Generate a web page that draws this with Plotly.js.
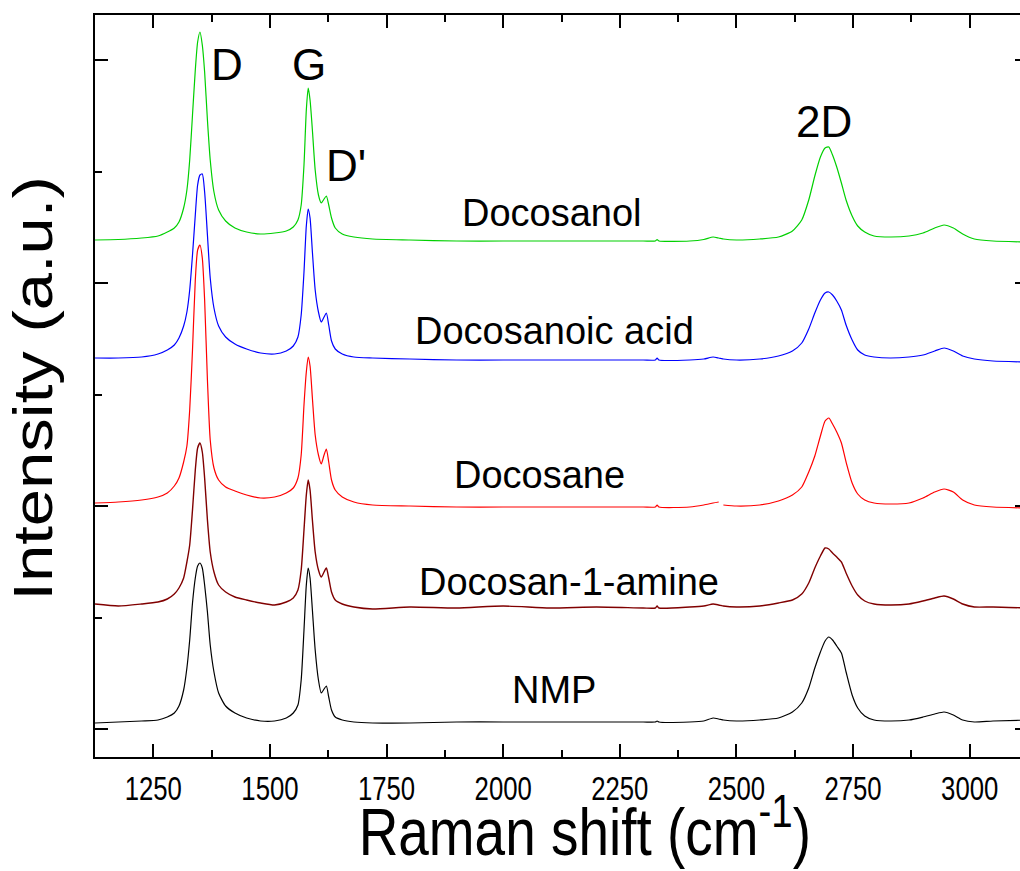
<!DOCTYPE html>
<html><head><meta charset="utf-8">
<script src="https://cdn.plot.ly/plotly-3.0.1.min.js"></script>
<style>html,body{margin:0;padding:0;overflow:hidden;background:#fff}#chart{width:1040px;height:871px}</style>
</head><body><div id="chart"></div>
<script>
// Raman shift (cm-1), shared by all spectra
const ramanShift = [1125,1175,1225,1260,1280,1295,1305,1315,1322,1328,
  1334,1340,1345,1350,1355,1360,1366,1372,1380,1390,
  1405,1425,1450,1480,1510,1535,1550,1560,1567,1573,
  1578,1582,1586,1591,1597,1604,1610,1616,1621,1626,
  1632,1640,1655,1680,1720,1800,1900,2000,2100,2200,
  2300,2326,2330,2334,2400,2430,2450,2462,2467,2472,
  2500,2550,2590,2620,2640,2655,2668,2680,2690,2698,
  2706,2715,2725,2735,2748,2760,2775,2795,2830,2870,
  2900,2925,2945,2965,2985,3010,3050,3125];

const seriesNames = ['Docosanol','Docosanoic acid','Docosane','Docosan-1-amine','NMP'];

// Intensities (a.u.) relative to each spectrum's own baseline
const docosanol = [0,0.5,2,4,8,12,18,32,50,80,
  125,170,198,208,195,168,120,80,48,30,
  19,12,8,6,7,9,13,20,35,75,
  130,152,140,110,70,45,37,41,44,35,
  22,12,6,3,1,0,-1,-1,-1,-1,
  -1,-1,0.5,-1,-1,0.5,3,2,1.5,1,
  0,1,3,9,20,40,64,83,92,93,
  85,73,57,40,24,14,8,4,3,4,
  7,12,15,12,6,1,-1,-2];
const docosanoicAcid = [1,1,2,5,9,14,21,33,47,69,
  104,144,174,184,185,167,124,81,51,33,
  22,15,10,6,5,8,13,22,44,87,
  133,150,141,107,69,47,37,42,46,34,
  18,10,5,2,1,0,-1,-1,-1,-1,
  -1,-1,1,-1,-1,0,2,1,0.5,0,
  -1,0,3,8,16,30,46,59,66,67,
  64,58,49,34,19,9,4,2,1,2,
  4,8,11,8,3,0,-2,-3];
const docosane = [1,2,4,7,11,18,26,42,58,94,
  154,224,254,259,246,204,124,64,36,24,
  17,13,9,6,7,11,16,26,49,99,
  132,147,138,106,69,49,40,49,55,42,
  24,14,7,2,-1,-2,-3,-3,-3,-3,
  -3,-3,-1,-3,-3,-1,1,2,null,-1,
  -2,-1,3,9,17,32,48,68,83,86,
  80,72,61,42,21,10,4,1,0,1,
  6,12,15,12,4,-1,-3,-4];
const docosanAmine = [0,-2,0,2,5,10,16,26,42,59,
  94,134,156,161,152,126,84,52,32,19,
  12,7,4,1,-1,2,6,14,34,74,
  109,124,114,84,52,34,27,32,36,26,
  12,4,0,-3,-5,-3,-4,-2,-4,-3,
  -4,-4,-2,-4,-3,-2,0,-1,-1.5,-2,
  -3,-2,1,4,10,21,36,48,56,55,
  51,47,42,31,18,9,3,0,-1,0,
  3,6,8,5,0,-3,-3,-4];
const nmp = [-1,0,1,2,5,9,16,32,54,82,
  119,144,156,159,154,137,110,77,50,29,
  16,9,4,1,1,4,9,17,42,92,
  137,154,144,112,72,42,29,33,36,25,
  12,5,2,0,-1,-1,0,0,0,0,
  0,0,1,0,0,1,4,3,2.5,2,
  1,2,4,10,19,34,54,70,81,85,
  82,76,69,50,27,14,6,2,1,2,
  5,8,10,7,2,0,1,2];

// vertical stacking offsets (a.u.)
const offsets = [489, 370, 225, 125, 7];
const peakNames = ['D', 'G', "D'", '2D'];

const intensities = [docosanol, docosanoicAcid, docosane, docosanAmine, nmp];
const colors = ['#00D000', '#0000FF', '#FF0000', '#800000', '#000000'];
const widths = [1.2, 1.2, 1.2, 1.4, 1.2];

const traces = intensities.map((arr, i) => ({
  type: 'scatter', mode: 'lines', name: seriesNames[i],
  x: ramanShift,
  y: arr.map(v => v === null ? null : v + offsets[i]),
  connectgaps: false,
  line: {color: colors[i], width: widths[i], shape: 'spline', smoothing: 0.6}
}));

const FONT = 'Liberation Sans, Arial, sans-serif';
function lab(text, x, y, size) {
  return {text: text, x: x, y: y, xref: 'x', yref: 'y', showarrow: false,
    xanchor: 'center', yanchor: 'middle', font: {family: FONT, size: size, color: '#000'}};
}
const annotations = [
  lab(peakNames[0], 1409, 665, 44),
  lab(peakNames[1], 1583, 665, 44),
  lab(peakNames[2], 1664, 564, 44),
  lab(peakNames[3], 2687, 608, 44),
  lab(seriesNames[0], 2105, 516, 38),
  lab(seriesNames[1], 2111, 398, 38),
  lab(seriesNames[2], 2077, 254, 38),
  lab(seriesNames[3], 2141, 147, 38),
  lab(seriesNames[4], 2109, 39, 38),
  {text: 'Raman shift (cm<sup>-1</sup>)', xref: 'paper', yref: 'paper', x: 0.5247, y: -0.095,
   showarrow: false, xanchor: 'center', yanchor: 'middle', font: {family: FONT, size: 67, color: '#000'}},
  {text: 'Intensity (a.u.)', xref: 'paper', yref: 'paper', x: -0.067, y: 0.497, textangle: -90,
   showarrow: false, xanchor: 'center', yanchor: 'middle', font: {family: FONT, size: 67, color: '#000'}}
];
const X_TITLE = 9, Y_TITLE = 10;

const axisCommon = {
  ticks: 'inside', ticklen: 13, tickwidth: 2, tickcolor: '#000',
  showline: true, linewidth: 2, linecolor: '#000', mirror: 'ticks',
  showgrid: false, zeroline: false
};
const layout = {
  width: 1040, height: 871,
  margin: {l: 95, r: 12, t: 15, b: 114},
  paper_bgcolor: '#fff', plot_bgcolor: '#fff',
  showlegend: false,
  xaxis: Object.assign({}, axisCommon, {
    range: [1125, 3125], tick0: 1250, dtick: 250,
    tickfont: {family: FONT, size: 33, color: '#000'},
    ticklabelstandoff: 1,
    minor: {dtick: 125, ticks: 'inside', ticklen: 7, tickwidth: 2, tickcolor: '#000', showgrid: false}
  }),
  yaxis: Object.assign({}, axisCommon, {
    range: [-28, 714], tick0: 0, dtick: 223, showticklabels: false,
    minor: {dtick: 111.5, ticks: 'inside', ticklen: 7, tickwidth: 2, tickcolor: '#000', showgrid: false}
  }),
  annotations: annotations
};

Plotly.newPlot('chart', traces, layout, {staticPlot: true}).then(gd => {
  const fl = gd._fullLayout, sz = fl._size;
  const squeeze = 0.82;
  [X_TITLE, Y_TITLE].forEach(idx => {
    const g = gd.querySelector('g.annotation[data-index="' + idx + '"]');
    if (!g) return;
    const a = fl.annotations[idx];
    const cx = sz.l + a.x * sz.w;
    g.setAttribute('transform', 'translate(' + cx + ',0) scale(' + squeeze + ',1) translate(' + (-cx) + ',0)');
  });
  gd.querySelectorAll('g.xtick text').forEach(t => {
    const tr = t.getAttribute('transform') || '';
    const x = parseFloat(t.getAttribute('x')) || 0;
    t.setAttribute('transform', tr + ' translate(' + x + ',0) scale(0.78,1) translate(' + (-x) + ',0)');
  });
});
</script>
</body></html>
